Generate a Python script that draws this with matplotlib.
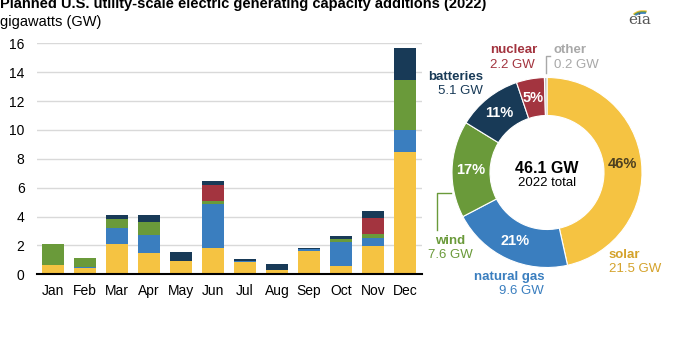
import matplotlib.pyplot as plt
import numpy as np
from matplotlib.patches import Arc

plt.rcParams['font.family'] = ['Liberation Sans', 'DejaVu Sans']

# monthly additions, GW
months = ['Jan', 'Feb', 'Mar', 'Apr', 'May', 'Jun', 'Jul', 'Aug', 'Sep', 'Oct', 'Nov', 'Dec']
solar = [0.65, 0.45, 2.10, 1.47, 0.92, 1.84, 0.88, 0.30, 1.64, 0.58, 1.94, 8.45]
gas = [0, 0.05, 1.10, 1.23, 0, 3.00, 0.06, 0, 0.09, 1.68, 0.60, 1.55]
wind = [1.43, 0.60, 0.63, 0.92, 0, 0.23, 0, 0, 0, 0.21, 0.25, 3.47]
nuclear = [0, 0, 0, 0, 0, 1.11, 0, 0, 0, 0, 1.13, 0]
batteries = [0, 0, 0.30, 0.46, 0.60, 0.30, 0.14, 0.39, 0.09, 0.18, 0.49, 2.19]

# annual totals for the donut
tech = ['solar', 'natural gas', 'wind', 'batteries', 'nuclear', 'other']
totals = [21.5, 9.6, 7.6, 5.1, 2.2, 0.2]
pct_labels = ['46%', '21%', '17%', '11%', '5%', '']

colors = {'solar': '#f5c342', 'natural gas': '#3a7ebf', 'wind': '#6a9a3a',
          'batteries': '#183a57', 'nuclear': '#a3343f', 'other': '#bdbdbd'}
text_colors = {'solar': '#d4a22a', 'natural gas': '#3a7ebf', 'wind': '#6a9a3a',
               'batteries': '#183a57', 'nuclear': '#a3343f', 'other': '#a8a8a8'}

fig = plt.figure(figsize=(6.9, 3.53), dpi=100)

# ---- stacked bars ----
ax = fig.add_axes([37 / 690, 1 - 274.3 / 353, 385 / 690, 230.9 / 353])
x = np.arange(len(months))
bottom = np.zeros(len(months))
for name, vals in [('solar', solar), ('natural gas', gas), ('wind', wind),
                   ('nuclear', nuclear), ('batteries', batteries)]:
    vals = np.array(vals)
    ax.bar(x, vals, 0.66, bottom=bottom, color=colors[name], zorder=3)
    bottom += vals

ax.set_xlim(-0.5, 11.53)
ax.set_ylim(0, 16)
ax.set_yticks(range(0, 17, 2))
ax.set_xticks(x)
ax.set_xticklabels(months)
ax.tick_params(axis='both', length=0, labelsize=10)
ax.tick_params(axis='y', pad=9)
ax.tick_params(axis='x', pad=7)
ax.yaxis.grid(True, color='#d9d9d9', linewidth=1, zorder=0)
for s in ['top', 'right', 'left']:
    ax.spines[s].set_visible(False)
ax.spines['bottom'].set_linewidth(1.5)
ax.spines['bottom'].set_zorder(4)

fig.text(0.0, 1 - 8 / 353, 'Planned U.S. utility-scale electric generating capacity additions (2022)',
         fontsize=10.5, fontweight='bold', va='baseline', ha='left')
fig.text(0.0, 1 - 26 / 353, 'gigawatts (GW)', fontsize=10.5, va='baseline', ha='left')

# ---- donut ----
ax2 = fig.add_axes([407 / 690, 1 - 312.5 / 353, 280 / 690, 280 / 353])
R, W = 95, 38
ax2.pie(totals, radius=R, startangle=90, counterclock=False,
        colors=[colors[t] for t in tech],
        wedgeprops=dict(width=W, edgecolor='white', linewidth=0.8))
ax2.set_xlim(-140, 140)
ax2.set_ylim(-140, 140)
ax2.set_aspect('equal')
ax2.axis('off')
ax2.patch.set_alpha(0)

frac = np.cumsum([0] + totals) / sum(totals)
for i, t in enumerate(tech):
    if not pct_labels[i]:
        continue
    ang = np.deg2rad(90 - 360 * (frac[i] + frac[i + 1]) / 2)
    r = R - W / 2
    c = '#4d4020' if t == 'solar' else 'white'
    ax2.text(r * np.cos(ang), r * np.sin(ang), pct_labels[i], ha='center', va='center',
             fontsize=10.5, fontweight='bold', color=c)

ax2.text(0, 4, '46.1 GW', ha='center', va='center', fontsize=11.5, fontweight='bold')
ax2.text(0, -10, '2022 total', ha='center', va='center', fontsize=9.5)

# outer labels (name, x, y, ha) relative to donut centre, pixels
outer = [('solar', 62, -82.5, 'left'),
         ('natural gas', -3, -104.5, 'right'),
         ('wind', -97, -68, 'center'),
         ('batteries', -64, 96, 'right'),
         ('nuclear', -57, 122.5, 'left'),
         ('other', 7, 122.5, 'left')]
for name, lx, ly, ha in outer:
    i = tech.index(name)
    ax2.text(lx, ly, name, ha=ha, va='center', fontsize=9.5, fontweight='bold',
             color=text_colors[name], clip_on=False)
    ax2.text(lx, ly - 14.5, f'{totals[i]} GW', ha=ha, va='center', fontsize=9.5,
             color=text_colors[name], clip_on=False)

# leader brackets
ax2.plot([3, -1, -1], [116.5, 116.5, 99.5], color='#a8a8a8', lw=1, clip_on=False)
ax2.plot([-96, -110, -110], [-20.5, -20.5, -57.5], color=text_colors['wind'], lw=1, clip_on=False)

# ---- eia logo ----
fig.text(640 / 690, 1 - 24 / 353, 'eia', family='DejaVu Serif', fontsize=11,
         color='#555555', ha='center', va='baseline')
lax = fig.add_axes([628 / 690, 1 - 20 / 353, 26 / 690, 14 / 353])
lax.set_xlim(0, 26)
lax.set_ylim(0, 14)
lax.axis('off')
for col, w, h in [('#f5c342', 22, 14), ('#6a9a3a', 20, 12), ('#3a7ebf', 18, 10)]:
    lax.add_patch(Arc((15, 2), w, h, theta1=60, theta2=160, color=col, lw=1.2))

fig.savefig('out.png', dpi=100)
